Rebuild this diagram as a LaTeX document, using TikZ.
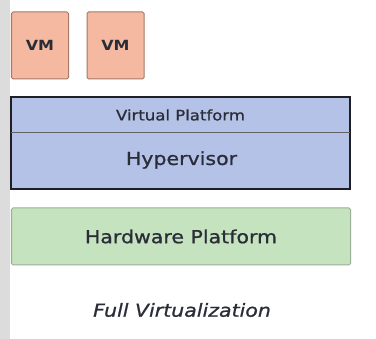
\documentclass[tikz,border=0pt]{standalone}
\usepackage{fontspec}
\setmainfont{DejaVu Sans}
\newfontfamily\vf[FakeStretch=1.14,FakeBold=0.9]{DejaVu Sans}
\newfontfamily\vb[FakeStretch=1.14]{DejaVu Sans Bold}
\definecolor{vmfill}{HTML}{F4B9A0}
\definecolor{vmdraw}{HTML}{A57868}
\definecolor{hvfill}{HTML}{B3C2E6}
\definecolor{hvdraw}{HTML}{1E1E24}
\definecolor{hwfill}{HTML}{C4E3BE}
\definecolor{hwdraw}{HTML}{9DAE98}
\definecolor{txt}{HTML}{2A2D38}
\definecolor{strip}{HTML}{DCDCDC}
\begin{document}
\begin{tikzpicture}[x=1pt,y=-1pt,
  vmbox/.style={draw=vmdraw,fill=vmfill,line width=1pt,rounded corners=1.5pt,
    minimum width=57pt,minimum height=67pt,inner sep=0pt,
    font=\vb\fontsize{14}{16}\selectfont,text=txt},
  lbl/.style={inner sep=0pt,text=txt},
  hwbox/.style={draw=hwdraw,fill=hwfill,line width=1pt,rounded corners=1.5pt,
    minimum width=339pt,minimum height=57pt,inner sep=0pt,
    font=\vf\fontsize{18}{20}\selectfont,text=txt}]
\useasboundingbox (0,0) rectangle (376,339);
\fill[white] (0,0) rectangle (376,339);
\fill[strip] (0,0) rectangle (10,339);
% VMs
\node[vmbox] (vm1) at (40,45.5) {VM};
\node[vmbox] (vm2) at (115.5,45.5) {VM};
% Hypervisor block
\node[draw=hvdraw,fill=hvfill,line width=2pt,minimum width=339pt,minimum height=92pt,inner sep=0pt] (hv) at (180.5,143) {};
\coordinate (dl) at (11,133);
\coordinate (dr) at (350,133);
\draw[hvdraw!70,line width=1pt] (dl) -- (dr);
\node[lbl,font=\vf\fontsize{14.5}{16}\selectfont] (vp) at (180.5,115) {Virtual Platform};
\node[lbl,font=\vf\fontsize{18}{20}\selectfont] (hyp) at (181.5,160) {Hypervisor};
% Hardware
\node[hwbox] (hw) at (181,236.5) {Hardware Platform};
% caption
\node[lbl,font=\vf\itshape\fontsize{18}{20}\selectfont] (cap) at (182,310) {Full Virtualization};
\end{tikzpicture}
\end{document}
